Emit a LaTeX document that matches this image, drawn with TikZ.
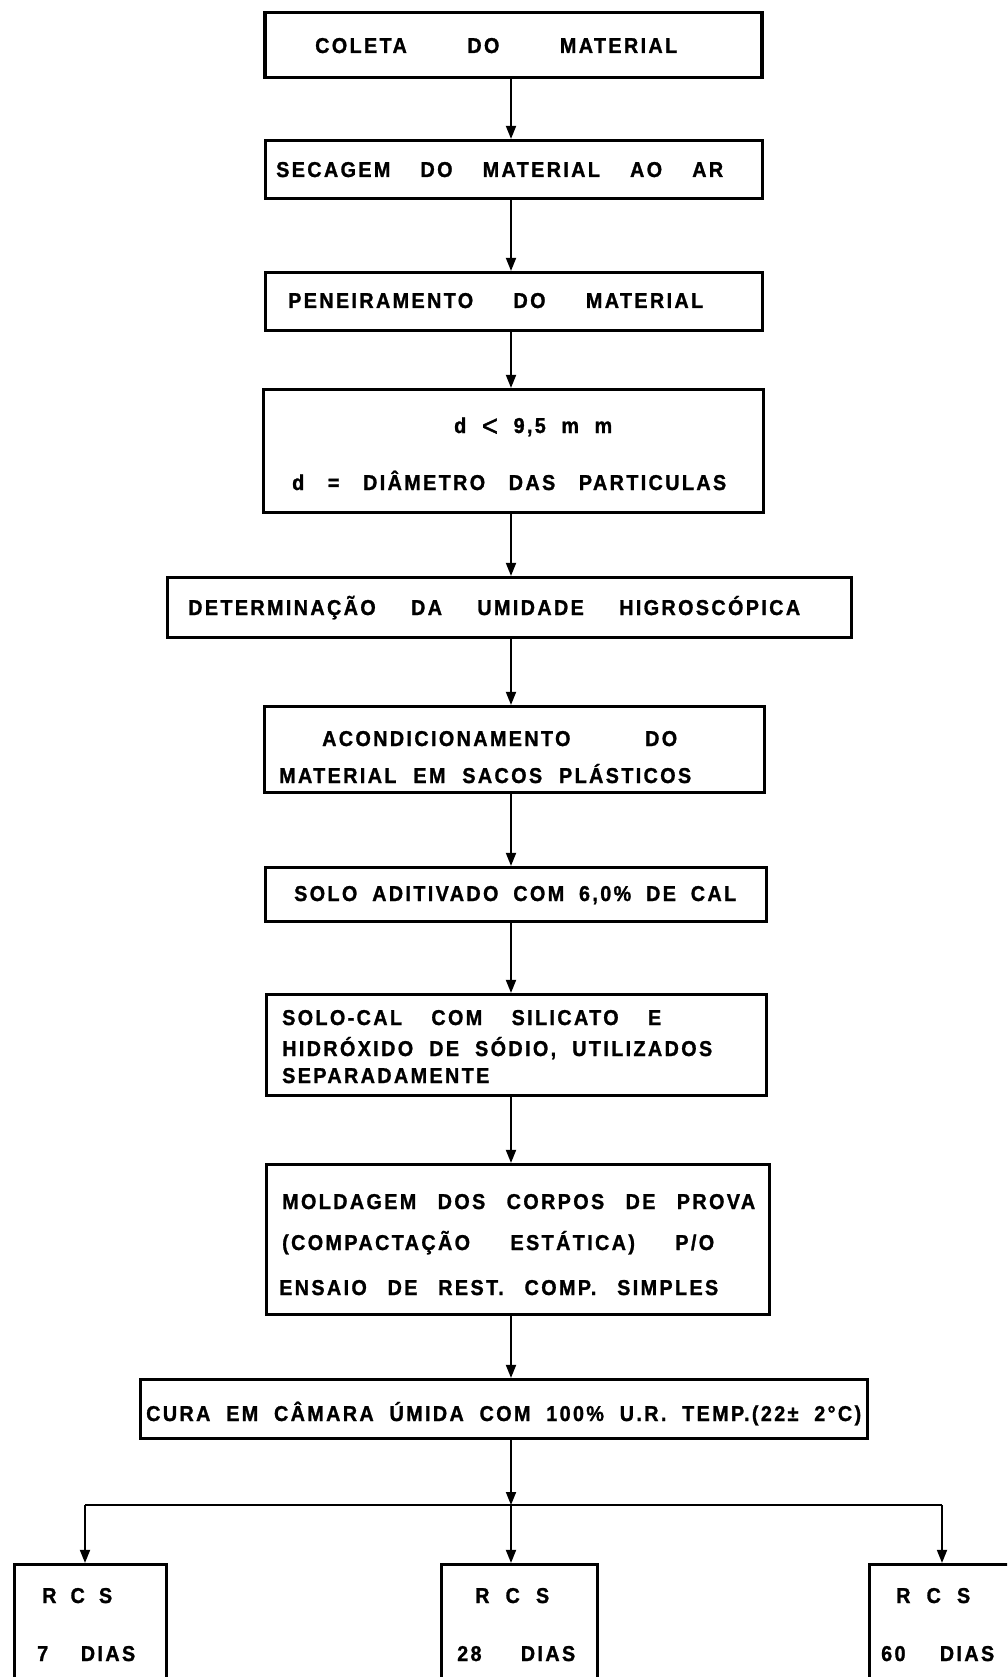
\documentclass[tikz,border=0pt]{standalone}
\usepackage{fontspec}
\setmainfont{Liberation Sans}
\newfontfamily\lett[FakeStretch=0.92,LetterSpace=11,FakeBold=1.2]{Liberation Sans}
\usetikzlibrary{arrows.meta}
\newcommand\lineW[2]{\makebox[#1pt][s]{#2}}
\begin{document}
\begin{tikzpicture}[x=1pt,y=-1pt,
  box/.style={draw, line width=3.2pt, rectangle, inner sep=0pt},
  lbl/.style={anchor=base west, inner sep=0pt, font=\lett\bfseries\fontsize{21.5}{22}\selectfont},
  arr/.style={line width=1.8pt, -{Triangle[length=13pt,width=10pt]}},
  conn/.style={line width=1.8pt}]
\useasboundingbox (0,0) rectangle (1007,1677);
\clip (0,0) rectangle (1007,1677);
\fill[white] (0,0) rectangle (1007,1677);

% boxes
\node[box, minimum width=497pt, minimum height=65pt] (coleta) at (513.5,45) {};
\node[box, minimum width=497pt, minimum height=58pt] (secagem) at (514,169.5) {};
\node[box, minimum width=497pt, minimum height=58pt] (peneira) at (514,301.5) {};
\node[box, minimum width=500pt, minimum height=123pt] (diam) at (513.5,451) {};
\node[box, minimum width=684pt, minimum height=60pt] (umid) at (509.5,607.5) {};
\node[box, minimum width=500pt, minimum height=86pt] (acond) at (514.5,749.5) {};
\node[box, minimum width=501pt, minimum height=54pt] (cal) at (516,894.5) {};
\node[box, minimum width=500pt, minimum height=101pt] (solocal) at (516.5,1045) {};
\node[box, minimum width=503pt, minimum height=150pt] (molda) at (518,1239.5) {};
\node[box, minimum width=727pt, minimum height=59pt] (cura) at (504,1409) {};
\node[box, minimum width=152pt, minimum height=170pt] (d7) at (90.5,1649.5) {};
\node[box, minimum width=156pt, minimum height=170pt] (d28) at (519.5,1649.5) {};
\node[box, minimum width=179pt, minimum height=170pt] (d60) at (959,1649.5) {};

% texts
\node[lbl] (t1) at (315,53) {\lineW{362}{COLETA DO MATERIAL}};
\node[lbl] (t2) at (276,177) {\lineW{447}{SECAGEM DO MATERIAL AO AR}};
\node[lbl] (t3) at (288,308) {\lineW{415}{PENEIRAMENTO DO MATERIAL}};
\node[lbl] (t4a) at (454,433) {\lineW{158}{d \raisebox{-3pt}{\mdseries\fontsize{30}{30}\selectfont<} 9,5 m m}};
\node[lbl] (t4b) at (292,490) {\lineW{434}{d = DIÂMETRO DAS PARTICULAS}};
\node[lbl] (t5) at (188,615) {\lineW{612}{DETERMINAÇÃO DA UMIDADE HIGROSCÓPICA}};
\node[lbl] (t6a) at (322,746) {\lineW{355}{ACONDICIONAMENTO DO}};
\node[lbl] (t6b) at (279,783) {\lineW{412}{MATERIAL EM SACOS PLÁSTICOS}};
\node[lbl] (t7) at (294,901) {\lineW{442}{SOLO ADITIVADO COM 6,0\% DE CAL}};
\node[lbl] (t8a) at (282,1025) {\lineW{379}{SOLO-CAL COM SILICATO E}};
\node[lbl] (t8b) at (282,1056) {\lineW{430}{HIDRÓXIDO DE SÓDIO, UTILIZADOS}};
\node[lbl] (t8c) at (282,1083) {SEPARADAMENTE};
\node[lbl] (t9a) at (282,1209) {\lineW{473}{MOLDAGEM DOS CORPOS DE PROVA}};
\node[lbl] (t9b) at (282,1250) {\lineW{432}{(COMPACTAÇÃO ESTÁTICA) P/O}};
\node[lbl] (t9c) at (279,1295) {\lineW{439}{ENSAIO DE REST. COMP. SIMPLES}};
\node[lbl] (t10) at (146,1421) {\lineW{715}{CURA EM CÂMARA ÚMIDA COM 100\% U.R. TEMP.(22± 2°C)}};
\node[lbl] (t11a) at (42,1603) {\lineW{70}{R C S}};
\node[lbl] (t11b) at (37,1661) {\lineW{98}{7 DIAS}};
\node[lbl] (t12a) at (475,1603) {\lineW{74}{R C S}};
\node[lbl] (t12b) at (457,1661) {\lineW{118}{28 DIAS}};
\node[lbl] (t13a) at (896,1603) {\lineW{74}{R C S}};
\node[lbl] (t13b) at (881,1661) {\lineW{113}{60 DIAS}};

% connectors
\coordinate (col) at (511,0);
\draw[arr] (coleta.south -| col) -- (secagem.north -| col);
\draw[arr] (secagem.south -| col) -- (peneira.north -| col);
\draw[arr] (peneira.south -| col) -- (diam.north -| col);
\draw[arr] (diam.south -| col) -- (umid.north -| col);
\draw[arr] (umid.south -| col) -- (acond.north -| col);
\draw[arr] (acond.south -| col) -- (cal.north -| col);
\draw[arr] (cal.south -| col) -- (solocal.north -| col);
\draw[arr] (solocal.south -| col) -- (molda.north -| col);
\draw[arr] (molda.south -| col) -- (cura.north -| col);
\coordinate (jn) at (511,1505);
\coordinate (jl) at (85,1505);
\coordinate (jr) at (942,1505);
\draw[arr] (cura.south -| col) -- (jn);
\draw[conn] (jl) -- (jr);
\draw[arr] (jl) -- (d7.north -| jl);
\draw[arr] (jn) -- (d28.north -| jn);
\draw[arr] (jr) -- (d60.north -| jr);
\end{tikzpicture}
\end{document}
